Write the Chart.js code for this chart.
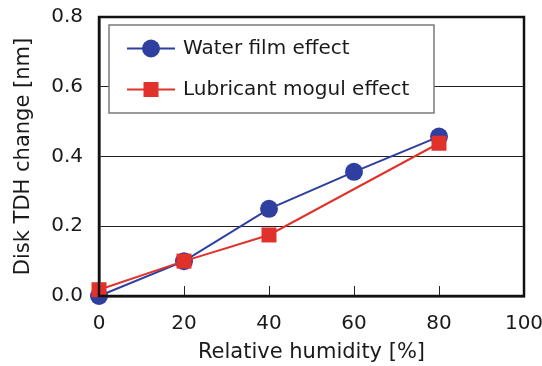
<!DOCTYPE html>
<html>
<head>
<meta charset="utf-8">
<script src="https://cdn.jsdelivr.net/npm/chart.js@4.4.1/dist/chart.umd.min.js"></script>
<style>
html,body{margin:0;padding:0;background:#fff;}
#wrap{width:542px;height:366px;}
</style>
</head>
<body>
<div id="wrap"><canvas id="c" width="542" height="366"></canvas></div>
<script>
const xValues = [0, 20, 40, 60, 80];
const waterFilm = [0.0, 0.10, 0.25, 0.356, 0.457];
const lubXValues = [0, 20, 40, 80];
const lubricantMogul = [0.018, 0.10, 0.175, 0.438];
const seriesNames = ['Water film effect', 'Lubricant mogul effect'];
const xTickLabels = ['0', '20', '40', '60', '80', '100'];
const yTickLabels = ['0.0', '0.2', '0.4', '0.6', '0.8'];
const xTitle = 'Relative humidity [%]';
const yTitle = 'Disk TDH change [nm]';

const BLUE = '#2F3F9F';
const RED = '#E0322A';
const FONT = '"DejaVu Sans", sans-serif';

const framePlugin = {
  id: 'frame',
  beforeDatasetsDraw(chart) {
    const {ctx, chartArea: a, scales} = chart;
    ctx.save();
    ctx.strokeStyle = '#222';
    ctx.lineWidth = 1;
    xTickLabels.forEach((t) => {
      const v = parseFloat(t);
      if (v <= 0 || v >= 100) return;
      const px = Math.round(scales.x.getPixelForValue(v)) + 0.5;
      ctx.beginPath();
      ctx.moveTo(px, a.bottom);
      ctx.lineTo(px, a.bottom - 10);
      ctx.stroke();
    });
    ctx.restore();
  },
  afterDatasetsDraw(chart) {
    const {ctx, chartArea: a} = chart;
    ctx.save();
    const lx = 109, ly = 25, lw = 325, lh = 88;
    ctx.fillStyle = '#fff';
    ctx.fillRect(lx, ly, lw, lh);
    ctx.strokeStyle = '#7a7a7a';
    ctx.lineWidth = 1.5;
    ctx.strokeRect(lx, ly, lw, lh);
    const rows = [
      {y: 48.5, color: BLUE, shape: 'circle', label: seriesNames[0]},
      {y: 89.5, color: RED, shape: 'square', label: seriesNames[1]}
    ];
    rows.forEach(r => {
      ctx.strokeStyle = r.color;
      ctx.lineWidth = 2;
      ctx.beginPath();
      ctx.moveTo(127, r.y);
      ctx.lineTo(175, r.y);
      ctx.stroke();
      ctx.fillStyle = r.color;
      if (r.shape === 'circle') {
        ctx.beginPath();
        ctx.arc(151, r.y, 9, 0, Math.PI * 2);
        ctx.fill();
      } else {
        ctx.fillRect(151 - 7.5, r.y - 7.5, 15, 15);
      }
      ctx.fillStyle = '#1a1a1a';
      ctx.font = '20px ' + FONT;
      ctx.textBaseline = 'middle';
      ctx.textAlign = 'left';
      ctx.fillText(r.label, 183, r.y);
    });
    ctx.strokeStyle = '#111';
    ctx.lineWidth = 2.5;
    ctx.strokeRect(a.left, a.top, a.right - a.left, a.bottom - a.top);
    ctx.restore();
  }
};

new Chart(document.getElementById('c'), {
  type: 'line',
  data: {
    datasets: [
      {
        label: seriesNames[0],
        data: xValues.map((x, i) => ({x, y: waterFilm[i]})),
        borderColor: BLUE, backgroundColor: BLUE,
        borderWidth: 2, pointStyle: 'circle', pointRadius: 9,
        pointBorderWidth: 0, pointHoverRadius: 9, order: 2, clip: false
      },
      {
        label: seriesNames[1],
        data: lubXValues.map((x, i) => ({x, y: lubricantMogul[i]})),
        borderColor: RED, backgroundColor: RED,
        borderWidth: 2, pointStyle: 'rect', pointRadius: 10.6,
        pointBorderWidth: 0, pointHoverRadius: 10.6, order: 1, clip: false
      }
    ]
  },
  options: {
    responsive: false,
    animation: false,
    devicePixelRatio: 1,
    layout: {padding: {left: 0, right: 18, top: 17, bottom: 0}},
    plugins: {legend: {display: false}, tooltip: {enabled: false}},
    scales: {
      x: {
        type: 'linear', min: 0, max: 100,
        afterFit(s) { s.height = 70; s.paddingLeft = 0; s.paddingRight = 0; },
        ticks: {
          stepSize: 20, padding: 16, color: '#1a1a1a',
          font: {family: FONT, size: 20},
          callback: (v) => { const i = xTickLabels.indexOf(String(v)); return i >= 0 ? xTickLabels[i] : ''; }
        },
        grid: {display: false, drawTicks: false},
        border: {display: true, color: '#111', width: 2.5},
        title: {display: true, text: xTitle, color: '#1a1a1a', font: {family: FONT, size: 21}, padding: {top: 0, bottom: 1}}
      },
      y: {
        type: 'linear', min: 0, max: 0.8,
        afterFit(s) { s.width = 99; s.paddingTop = 0; s.paddingBottom = 0; },
        ticks: {
          stepSize: 0.2, padding: 16, color: '#1a1a1a',
          font: {family: FONT, size: 20},
          callback: (v) => yTickLabels[Math.round(v / 0.2)]
        },
        grid: {
          drawTicks: false,
          color: (c) => (c.tick && (c.tick.value <= 0.001 || c.tick.value >= 0.799)) ? 'rgba(0,0,0,0)' : '#222',
          lineWidth: 1
        },
        border: {display: true, color: '#111', width: 2.5},
        title: {display: true, text: yTitle, color: '#1a1a1a', font: {family: FONT, size: 21}, padding: {top: 11, bottom: 0}}
      }
    }
  },
  plugins: [framePlugin]
});
</script>
</body>
</html>
